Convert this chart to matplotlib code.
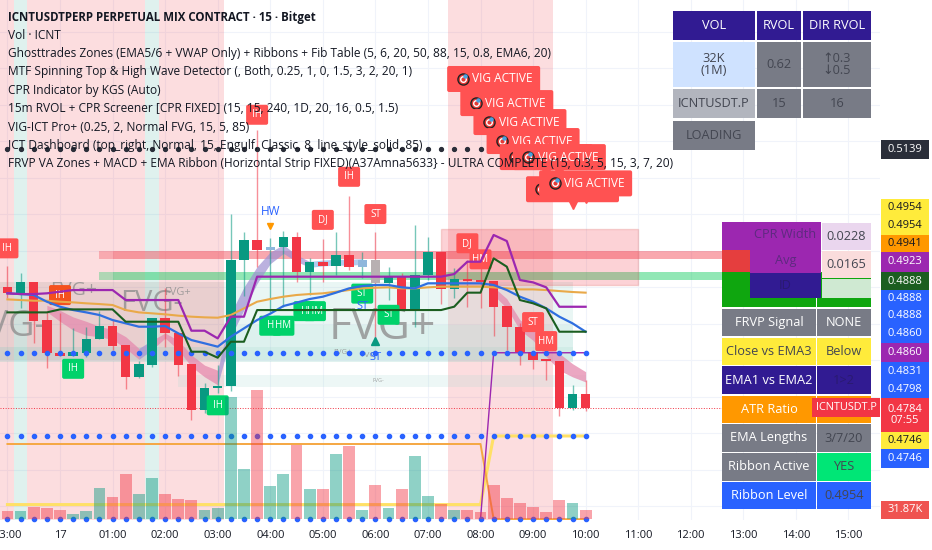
import matplotlib
matplotlib.use("Agg")
import matplotlib.pyplot as plt
from matplotlib.patches import Rectangle, FancyBboxPatch
import numpy as np

plt.rcParams['font.family'] = ['Open Sans', 'DejaVu Sans']

nan = float('nan')

# DATA: bars are 15 minute candles counted from 00:00 on the 17th
bars = list(range(-4, 41))
open_p = [.49504, .49422, .49573, .49048, .48596, .48559, .48592, .48784, .48966, .48706, .48272, .48432, .49080,
          .48874, .48441, .47815, .48117, .48144, .49870, .50144, .50007, .50052, .50189, .49710, .49839, .49788,
          .49939, .49778, .49870, .49559, .49641, .49185, .49665, .49984, .49473, .49610, .49596, .49582, .49240,
          .48948, .48605, .48510, .48490, .47847, .48030]
high_p = [.49788, .49698, .49573, .49162, .49144, .48938, .48952, .49172, .49048, .48706, .48486, .49080, .49486,
          .48874, .48441, .48185, .48432, .50500, .50258, .51651, .50172, .50271, .50258, .49898, .50154, .50258,
          .50747, .49984, .50258, .49778, .49692, .50350, .50189, .49984, .49756, .49870, .49870, .49582, .49240,
          .49003, .48605, .48510, .48490, .48158, .48226]
low_p = [.49349, .49216, .48737, .48390, .48559, .48559, .48546, .48784, .48637, .48103, .48250, .48408, .48682,
         .48285, .47678, .47774, .48048, .48080, .49381, .49774, .49158, .49230, .49573, .49391, .49573, .49665,
         .49733, .49624, .48774, .49322, .49185, .48956, .49596, .49267, .49345, .49230, .49208, .48833, .48637,
         .48432, .48377, .48226, .47733, .47815, .47806]
close_p = [.49414, .49573, .49034, .48596, .48559, .48605, .48788, .48966, .48696, .48272, .48441, .49080, .48874,
           .48432, .47815, .48121, .48148, .49870, .50144, .50007, .50052, .50189, .49710, .49839, .49788, .49939,
           .49778, .49870, .49559, .49641, .49185, .49665, .49984, .49473, .49610, .49587, .49573, .49230, .48948,
           .48605, .48500, .48487, .47847, .48030, .47847]
volume = [29, 31, 44, 41, 35, 20, 31, 116, 81, 169, 94, 154, 94, 76, 72, 35, 41, 457, 189, 482, 125, 169, 276, 114,
          112, 245, 275, 35, 129, 41, 112, 235, 87, 57, 34, 34, 27, 129, 79, 60, 44, 27, 72, 61, 32]

purple_line = [.49414, .49404, .49404, .49414, .49436, .49459, .49459, .49459, .49459, .49322, .49322, .49322, .49322,
               .49322, .48902, .48902, .48797, .49094, .49094, .49642, .49642, .49642, .49642, .49642, .49642, .49642,
               .49642, .49642, .49642, .49642, .49642, .49642, .49642, .49642, .49678, .49847, .49847, .50213, .50130,
               .49596, .49564, .49496, .49230, .49230, .49230]
green_line = [.49153, .49153, .49153, .49153, .49194, .49194, .49194, .49194, .49194, .49025, .49025, .49025, .49025,
              .49025, .48614, .48614, .48532, .48751, .48751, .49185, .49185, .49185, .49185, .49185, .49185, .49185,
              .49185, .49185, .49185, .49185, .49185, .49185, .49185, .49185, .49231, .49423, .49423, .49893, .49779,
              .49322, .49277, .49208, .48888, .48888, .48888]
blue_line = [.49414, .49404, .49391, .49299, .49231, .49185, .49153, .49117, .49048, .49003, .48957, .48957, .48966,
             .48866, .48774, .48729, .48683, .48820, .48934, .49048, .49135, .49240, .49286, .49336, .49368, .49423,
             .49482, .49514, .49528, .49528, .49496, .49482, .49551, .49551, .49551, .49551, .49551, .49528, .49459,
             .49368, .49299, .49208, .49094, .49003, .48888]
orange_line = [.49331, .49322, .49313, .49313, .49299, .49290, .49277, .49267, .49254, .49185, .49153, .49140, .49126,
               .49108, .49094, .49085, .49080, .49117, .49208, .49299, .49336, .49368, .49391, .49404, .49414, .49436,
               .49459, .49482, .49491, .49496, .49482, .49482, .49496, .49505, .49505, .49505, .49505, .49496, .49482,
               .49468, .49468, .49459, .49445, .49432, .49423]

ribbon_top = [nan, nan, nan, .4925, .4918, .4909, .4903, .4896, .4892, .4882, .4866, .4877, .4887, .4877, .4857, .4843,
              .4836, .4914, .4950, .4978, .4998, .5008, .4994, .4985, .4987, .4988, .4988, .4989, nan, nan, nan, nan,
              nan, nan, nan, nan, nan, .4950, .4934, .4905, .4893, .4873, .4859, .4845, .4834]
ribbon_bot = [nan, nan, nan, .4916, .4903, .4891, .4884, .4882, .4878, .4866, .4851, .4864, .4880, .4864, .4841, .4827,
              .4816, .4882, .4919, .4955, .4982, .4996, .4985, .4977, .4979, .4980, .4980, .4981, nan, nan, nan, nan,
              nan, nan, nan, nan, nan, .4939, .4921, .4891, .4877, .4855, .4836, .4827, .4820]
ribbon_falling = [(-1, 6), (7, 12), (33, 40)]
ribbon_rising = [(6, 7), (12, 19)]
ribbon_pale = [(19, 23)]

dots_top = .5139
dots_mid = .4860
dots_low = .4746
dots_base = .4632
yellow_line = [.4652] * 37 + [.4746] * 8
amber_line = [.4735] * 37 + [.4632] * 8
jump_line = [nan] * 36 + [.4632] + [.4860] * 8
last_price = .4784

pink_spans = [(-4.6, -3.5), (-2.5, 6.5), (7.5, 12.5), (29.5, 37.5)]
teal_spans = [(-3.5, -2.5), (6.5, 7.5)]

# bar, price, text
red_labels = [(-4, .5003, 'IH'), (15, .5186, 'IH'), (22, .5101, 'IH'), (20, .5042, 'DJ'), (24, .5050, 'ST'),
              (31, .5010, 'DJ'), (32, .4988, 'HM'), (36, .4902, 'ST'), (37, .4876, 'HM')]
green_labels = [(1, .4838, 'IH'), (12, .4788, 'IH'), (16, .4897, 'H'), (17, .4897, 'HM'), (18.6, .4917, 'H'),
                (19.4, .4917, 'HM'), (23, .4941, 'ST'), (25, .4912, 'ST')]
vig_bars = [33, 34, 35, 36, 37, 38, 39, 40]
vig_prices = [.5235, .5202, .5176, .5150, .5128, .5128, .5084, .5092]

# bar, price, text, size
fvg_texts = [(24.5, .4894, 'FVG+', 32), (-4, .4895, 'FVG-', 26), (7, .4928, 'FVG-', 21), (1, .4946, 'FVG+', 14),
             (9, .4943, 'FVG+', 8), (21.5, .4861, 'FVG+', 5.5), (23.5, .4856, 'FVG-', 6), (24.2, .4822, 'FVG-', 4)]

time_bars = [-4, 0, 4, 8, 12, 16, 20, 24, 28, 32, 36, 40, 44, 48, 52, 56, 60]
time_labels = ['23:00', '17', '01:00', '02:00', '03:00', '04:00', '05:00', '06:00', '07:00', '08:00', '09:00',
               '10:00', '11:00', '12:00', '13:00', '14:00', '15:00']
price_ticks = [.465, .470, .475, .480, .485, .490, .495, .500, .505, .510, .515, .520, .525, .530]

legend_lines = [
    'ICNTUSDTPERP PERPETUAL MIX CONTRACT · 15 · Bitget',
    'Vol · ICNT',
    'Ghosttrades Zones (EMA5/6 + VWAP Only) + Ribbons + Fib Table (5, 6, 20, 50, 88, 15, 0.8, EMA6, 20)',
    'MTF Spinning Top & High Wave Detector (, Both, 0.25, 1, 0, 1.5, 3, 2, 20, 1)',
    'CPR Indicator by KGS (Auto)',
    '15m RVOL + CPR Screener [CPR FIXED] (15, 15, 240, 1D, 20, 16, 0.5, 1.5)',
    'VIG-ICT Pro+ (0.25, 2, Normal FVG, 15, 5, 85)',
    'ICT Dashboard (top_right, Normal, 15, Engulf, Classic, 8, line_style_solid, 85)',
    'FRVP VA Zones + MACD + EMA Ribbon (Horizontal Strip FIXED)(A37Amna5633} - ULTRA COMPLETE (15, 0.3, 5, 15, 3, 7, 20)',
]

tag_texts = ['0.5139', '0.4954', '0.4954', '0.4941', '0.4923', '0.4888', '0.4888', '0.4888', '0.4860', '0.4860',
             '0.4831', '0.4798', '0.4784\n07:55', '0.4746', '0.4746', '31.87K']

RED = '#f23645'
GREEN = '#089981'
LABEL_RED = '#ff5252'
LABEL_GREEN = '#00d26a'
DOT_BLUE = '#2962ff'

# pixel sizes of one bar and one price step on this chart
PX_X = 1 / 13.14
PX_Y = .000137

fig = plt.figure(figsize=(9.32, 5.5), dpi=100)
ax = fig.add_axes([0, 30 / 550, 880 / 932, 520 / 550])
ax.set_xlim(-4.566, 62.4)
ax.set_ylim(.46309, .53432)
for s in ax.spines.values():
    s.set_visible(False)
ax.yaxis.tick_right()
ax.set_yticks(price_ticks)
ax.set_yticklabels(['%.4f' % p for p in price_ticks])
ax.set_xticks(time_bars)
ax.set_xticklabels(time_labels)
ax.tick_params(axis='y', length=0, pad=6.5, labelsize=8, labelcolor='#131722')
ax.tick_params(axis='x', length=0, pad=7.5, labelsize=8, labelcolor='#131722')
ax.grid(color='#f0f3fa', lw=0.8)
ax.set_axisbelow(True)

# session background
for a, b in pink_spans:
    ax.axvspan(a, b, color=RED, alpha=.17, lw=0, zorder=0.6)
for a, b in teal_spans:
    ax.axvspan(a, b, color=GREEN, alpha=.13, lw=0, zorder=0.6)

# FVG boxes
ax.fill_between([-4.6, 12.5], .4850, .4957, color='#8a8a80', alpha=.16, lw=0, zorder=0.8)
ax.fill_between([12.5, 39], .4850, .4957, color='#9fd8cf', alpha=.22, lw=0, zorder=0.8)
ax.fill_between([-4.6, 39], .4848, .4868, color='#7ccabd', alpha=.22, lw=0, zorder=0.8)
ax.fill_between([13, 39], .4868, .4898, color='#9fd8cf', alpha=.16, lw=0, zorder=0.8)
ax.fill_between([9, 40], .4813, .4830, color='#9fd8cf', alpha=.18, lw=0, zorder=0.8)
for b, p, t, size in fvg_texts:
    ax.text(b, p, t, fontsize=size, color='#8f8f8f', alpha=.8, ha='center', va='center', zorder=0.9)

# CPR strips and the big zone
ax.fill_between([3, 51], .4988, .4999, color=RED, alpha=.3, lw=0, zorder=1)
ax.fill_between([4, 51], .4988, .4999, color=RED, alpha=.18, lw=0, zorder=1)
ax.fill_between([3, 51], .4960, .4970, color='#00c853', alpha=.3, lw=0, zorder=1)
ax.fill_between([4, 51], .4960, .4970, color='#00c853', alpha=.18, lw=0, zorder=1)
ax.add_patch(Rectangle((29, .4953), 15, .0077, fc=RED, ec='#d9534f', alpha=.22, lw=1, zorder=1))

# ribbon
x = np.array(bars)
rtop = np.array(ribbon_top)
rbot = np.array(ribbon_bot)
for spans, col, al in [(ribbon_falling, '#e58aae', .75), (ribbon_rising, '#9f90d2', .7), (ribbon_pale, '#9cc0ea', .8)]:
    for a, b in spans:
        m = (x >= a) & (x <= b)
        ax.fill_between(x[m], rbot[m], rtop[m], color=col, alpha=al, lw=0, zorder=1.5)

# candles
for i, o, h, l, c in zip(bars, open_p, high_p, low_p, close_p):
    col = GREEN if c >= o else RED
    ax.vlines(i, l, h, color=col, lw=1, alpha=.55, zorder=2)
    if i in (16, 23):
        col = '#8fb7dc'
    if i == 24:
        col = '#b8b0b2'
    ax.bar(i, abs(c - o), bottom=min(o, c), width=.72, color=col, zorder=2.2)

ax.axhline(last_price, color=RED, lw=.7, ls=':', zorder=2)
ax.plot(bars, yellow_line, color='#ffe066', lw=2.2, zorder=2.5)
ax.plot(bars, amber_line, color='#f5a742', lw=1.4, zorder=2.6)

# dotted levels
ax.plot(bars, [dots_top] * len(bars), 'o', color='#2a2e39', ms=2.8, zorder=2.7)
ax.plot(bars, [dots_mid] * len(bars), 'o', color=DOT_BLUE, ms=3, zorder=2.9)
ax.plot(bars, [dots_low] * len(bars), 'o', color=DOT_BLUE, ms=3, zorder=2.9)
ax.plot(bars, [dots_base] * len(bars), 'o', color=DOT_BLUE, ms=3, zorder=2.9, clip_on=False)
ax.plot(bars, jump_line, color='#9c27b0', lw=1, zorder=2.8)


def label_box(bar, price, text, col, w=22, h=20, z=3.0, size=7):
    rect = FancyBboxPatch((bar - w * PX_X / 2, price - h * PX_Y / 2), w * PX_X, h * PX_Y,
                          boxstyle='round,pad=0,rounding_size=0.15', mutation_aspect=PX_Y / PX_X,
                          fc=col, ec='none', zorder=z)
    ax.add_patch(rect)
    ax.text(bar, price, text, color='white', fontsize=size, ha='center', va='center', zorder=z + .01)


for b, p, t in red_labels:
    label_box(b, p, t, LABEL_RED)
label_box(0, .4939, 'IH', '#f4511e')
for b, p, t in green_labels:
    label_box(b, p, t, LABEL_GREEN)

ax.text(16, .5054, 'HW', color=DOT_BLUE, fontsize=8.5, ha='center', va='center', zorder=3.2)
ax.plot([16], [.5034], 'v', color='#ff9800', ms=5, zorder=3.2)
ax.text(23, .4924, 'ST', color=DOT_BLUE, fontsize=8, ha='center', va='center', zorder=3.2)
ax.text(24, .4853, 'ST', color=DOT_BLUE, fontsize=8, ha='center', va='center', zorder=3.2)
ax.plot([24], [.4876], '^', color=GREEN, ms=6, zorder=3.2)

# EMA lines go over the labels
ax.plot(bars, orange_line, color='#e9a949', lw=1.5, zorder=3.4)
ax.plot(bars, blue_line, color='#2f6fe0', lw=1.6, zorder=3.5)
ax.plot(bars, green_line, color='#1b5e20', lw=1.5, zorder=3.6)
ax.plot(bars, purple_line, color='#9c27b0', lw=1.6, zorder=3.7)

# VIG balloons
for n, (b, p) in enumerate(zip(vig_bars, vig_prices)):
    z = 4 + n * .1
    label_box(b, p, '', LABEL_RED, w=93, h=26, z=z)
    ax.plot([b], [p - 14.5 * PX_Y], 'v', color=LABEL_RED, ms=6.5, zorder=z)
    ax.text(b + 9 * PX_X, p, 'VIG ACTIVE', color='white', fontsize=8.6, ha='center', va='center', zorder=z + .02)
    ax.plot([b - 31 * PX_X], [p], 'o', color='#e53935', mec='#222222', mew=1, ms=8, zorder=z + .02)
    ax.plot([b - 31 * PX_X], [p], 'o', color='white', ms=4, zorder=z + .03)
    ax.plot([b - 31 * PX_X], [p], 'o', color='#e53935', ms=2, zorder=z + .04)
    ax.plot([b - 29 * PX_X], [p + 3 * PX_Y], 'o', color='#4aa3e0', ms=2.2, zorder=z + .05)

# volume sits on its own scale, over the lines
ax_v = ax.twinx()
ax_v.set_ylim(-4, 1946)
ax_v.axis('off')
ax_v.patch.set_visible(False)
vol_cols = [GREEN if c >= o else RED for o, c in zip(open_p, close_p)]
ax_v.bar(bars, volume, width=.9, color=vol_cols, alpha=.45, lw=0)

# overlay in pixels for tables, tags and legend text
ov = fig.add_axes([0, 0, 1, 1], zorder=5)
ov.set_xlim(0, 932)
ov.set_ylim(550, 0)
ov.axis('off')
ov.patch.set_visible(False)


def cell(x0, y0, x1, y1, fc, text='', tc='white', size=9.2, **kw):
    ov.add_patch(Rectangle((x0, y0), x1 - x0, y1 - y0, fc=fc, ec='none', **kw))
    if text:
        ov.text((x0 + x1) / 2, (y0 + y1) / 2, text, color=tc, fontsize=size, ha='center', va='center',
                linespacing=1.0)


NAVY = '#311b92'
GRAY = '#787b86'
DIM = '#434651'

# top right table
cell(673, 11, 755, 40, NAVY, 'VOL')
cell(757, 11, 801, 40, NAVY, 'RVOL')
cell(803, 11, 871, 40, NAVY, 'DIR RVOL')
cell(673, 42, 755, 87, '#cfe2ff', '32K\n(1M)', DIM)
cell(757, 42, 801, 87, GRAY, '0.62', DIM)
cell(803, 42, 871, 87, GRAY, '↑0.3\n↓0.5', DIM)
cell(673, 89, 755, 118, '#b2b5be', 'ICNTUSDT.P', DIM)
cell(757, 89, 801, 118, GRAY, '15', DIM)
cell(803, 89, 871, 118, GRAY, '16', DIM)
cell(673, 121, 755, 150, GRAY, 'LOADING', DIM)

# lower right dashboard
cell(722, 222, 750, 250, '#9c27b0')
cell(722, 250, 750, 272, '#e53e3e')
cell(722, 272, 816, 307, '#0fa60f')
cell(817, 272, 871, 307, '#0fa60f')
cell(750, 222, 821, 248, '#9c27b0', 'CPR Width', '#5e2a80')
cell(750, 248, 821, 273, '#9c27b0', 'Avg', '#5e2a80')
cell(750, 273, 821, 298, NAVY, 'ID', '#2a1a70')
cell(822, 223, 871, 250, '#ead6ee', '0.0228', DIM)
cell(822, 251, 871, 278, '#fadcdc', '0.0165', DIM)
cell(822, 279, 871, 298, '#cfe9d2')
rows = [(309, 336, 'FRVP Signal', GRAY, 'white', 'NONE', GRAY, 'white'),
        (338, 365, 'Close vs EMA3', '#ffeb3b', DIM, 'Below', '#ffeb3b', DIM),
        (366, 394, 'EMA1 vs EMA2', NAVY, 'white', '1>2', NAVY, '#2a1a70'),
        (396, 423, 'ATR Ratio', '#ff9800', 'white', '', '#ff9800', DIM),
        (424, 452, 'EMA Lengths', GRAY, 'white', '3/7/20', GRAY, DIM),
        (453, 481, 'Ribbon Active', GRAY, 'white', 'YES', '#00e676', DIM),
        (482, 509, 'Ribbon Level', DOT_BLUE, 'white', '0.4954', DOT_BLUE, DIM)]
for y0, y1, name, fc1, tc1, val, fc2, tc2 in rows:
    cell(722, y0, 816, y1, fc1, name, tc1)
    cell(817, y0, 871, y1, fc2, val, tc2)
cell(812, 398, 880, 417, '#f23645', 'ICNTUSDT.P', 'white', 7.8)

# price tags on the scale
tag_y = [(140, 159), (199, 216), (216, 235), (235, 252), (252, 272), (272, 290), (290, 307), (307, 325), (325, 343),
         (343, 362), (362, 381), (381, 398), (398, 432), (432, 449), (449, 468), (501, 519)]
tag_fc = ['#2a2e39', '#ffeb3b', '#ffeb3b', '#ff9800', '#9c27b0', '#1b5e20', DOT_BLUE, DOT_BLUE, DOT_BLUE, '#9c27b0',
          DOT_BLUE, DOT_BLUE, RED, '#ffeb3b', DOT_BLUE, '#ef5350']
tag_tc = ['white', '#131722', '#131722', '#131722', 'white', 'white', 'white', 'white', 'white', 'white', 'white',
          'white', 'white', '#131722', 'white', 'white']
for t, (y0, y1), fc, tc in zip(tag_texts, tag_y, tag_fc, tag_tc):
    cell(881, y0, 929, y1, fc, t, tc, 8)

# legend lines
legend_y = [17, 35.5, 54, 72, 90.5, 109, 127.5, 146, 164]
for n, (t, y) in enumerate(zip(legend_lines, legend_y)):
    ov.text(8, y, t, fontsize=8.3 if n == 0 else 8.55, color='#131722', va='center', ha='left',
            fontweight='bold' if n == 0 else 'normal')

fig.savefig('out.png', dpi=100)
